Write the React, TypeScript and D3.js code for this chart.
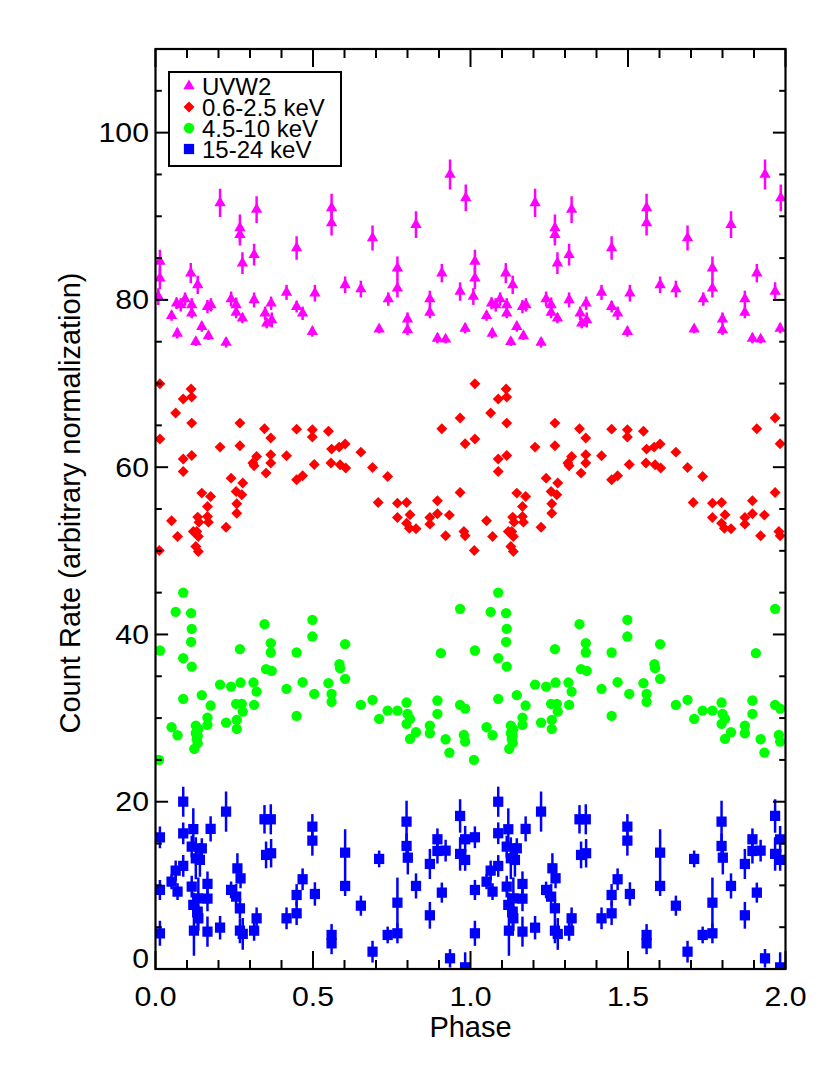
import React from 'react';
import * as d3 from 'd3';

// ---------- Data (folded phase 0-1, plotted twice) ----------
const uvPhase = [0.014,0.014,0.009,0.051,0.067,0.069,0.080,0.094,0.112,0.115,0.115,0.134,0.128,0.147,0.165,0.168,0.176,0.205,0.224,0.240,0.256,0.256,0.268,0.268,0.276,0.276,0.313,0.313,0.321,0.348,0.353,0.367,0.369,0.416,0.448,0.448,0.467,0.498,0.506,0.559,0.559,0.602,0.652,0.689,0.710,0.739,0.768,0.768,0.800,0.800,0.827,0.871,0.871,0.895,0.909,0.921,0.935,0.967,0.983,0.985];
const uvRate = [84.6,82.6,80.4,78.1,79.6,76.0,79.4,80.1,83.2,79.4,78.4,81.8,75.0,76.8,79.2,75.7,79.4,91.6,74.9,80.1,79.4,78.5,88.6,87.8,84.4,77.8,80.0,85.4,90.8,78.4,77.2,79.6,77.6,80.9,86.2,79.2,78.4,76.2,80.8,91.0,89.2,81.8,81.3,87.4,76.5,80.1,83.8,81.4,77.7,76.4,89.0,80.1,78.5,75.4,83.2,75.3,95.0,81.0,76.6,92.2];
const uvErr = [1.4,1.3,1.0,0.6,0.7,0.6,0.8,0.8,1.2,0.8,0.6,1.1,0.5,0.6,0.8,0.5,0.8,1.7,0.6,0.9,0.9,0.7,1.6,1.3,1.3,0.6,0.9,1.3,1.6,0.8,0.6,0.8,0.9,0.9,1.4,0.7,0.8,0.6,1.0,1.7,1.5,1.0,1.0,1.5,0.5,0.8,1.4,1.1,0.8,0.6,1.6,1.0,0.7,0.6,1.1,0.5,1.8,1.1,0.6,1.6];

const softPhase = [0.014,0.014,0.012,0.051,0.064,0.070,0.088,0.088,0.088,0.113,0.115,0.115,0.115,0.120,0.128,0.131,0.134,0.136,0.136,0.138,0.147,0.165,0.165,0.168,0.175,0.205,0.224,0.240,0.256,0.258,0.258,0.268,0.268,0.274,0.277,0.309,0.313,0.321,0.346,0.351,0.366,0.366,0.366,0.416,0.448,0.448,0.467,0.498,0.498,0.504,0.549,0.559,0.557,0.583,0.586,0.602,0.604,0.652,0.689,0.737,0.707,0.768,0.768,0.797,0.797,0.808,0.806,0.827,0.871,0.871,0.895,0.895,0.909,0.921,0.933,0.967,0.967,0.983,0.979,0.983];
const softRate = [69.98,63.36,50.04,53.59,66.47,51.71,68.14,60.97,59.49,69.34,68.38,65.27,61.4,52.31,50.52,52.31,54.03,51.71,49.92,53.43,56.9,55.3,54.1,53.43,56.5,62.4,52.83,58.69,57.1,55.62,54.5,65.27,62.56,56.7,58.1,60.49,60.17,61.28,64.59,59.29,63.48,61.48,60.49,61.36,64.55,58.49,58.97,64.47,63.6,60.33,64.3,62.16,60.49,62.4,60.29,62.76,59.89,61.8,59.97,58.89,55.78,55.7,53.99,55.78,53.31,54.31,52.71,52.63,53.99,53.19,55.98,54.43,64.59,51.79,54.27,65.87,56.97,62.8,52.31,51.79];

const hardPhase = [0.014,0.011,0.051,0.064,0.070,0.088,0.088,0.088,0.113,0.115,0.113,0.115,0.123,0.128,0.128,0.131,0.134,0.134,0.136,0.147,0.165,0.165,0.175,0.205,0.224,0.240,0.256,0.258,0.258,0.268,0.270,0.274,0.277,0.311,0.313,0.321,0.346,0.351,0.366,0.366,0.369,0.416,0.448,0.448,0.467,0.498,0.498,0.504,0.549,0.559,0.559,0.584,0.586,0.602,0.602,0.652,0.689,0.710,0.737,0.768,0.797,0.800,0.808,0.797,0.808,0.827,0.871,0.871,0.895,0.895,0.906,0.921,0.933,0.967,0.967,0.983,0.979,0.983];
const hardRate = [38.08,25.0,28.91,42.7,27.95,45.01,37.16,32.3,42.55,40.67,39.11,36.16,26.32,29.1,28.19,27.47,27.0,27.87,28.67,32.74,30.06,29.19,31.5,34.01,29.46,33.77,31.7,29.78,28.71,38.24,34.25,31.7,30.78,34.25,31.58,33.17,41.23,35.85,38.96,37.84,35.65,33.49,37.84,30.26,34.29,41.75,39.75,32.89,34.17,32.89,31.94,36.45,35.97,38.84,34.69,31.58,32.18,29.9,30.9,30.9,31.86,30.5,29.9,29.31,27.51,28.31,29.1,28.19,32.1,30.5,37.76,27.47,25.88,43.06,31.58,31.14,27.99,27.19];

const batPhase = [0.014,0.014,0.014,0.051,0.064,0.070,0.088,0.088,0.088,0.115,0.115,0.120,0.120,0.122,0.128,0.134,0.136,0.136,0.147,0.141,0.165,0.165,0.165,0.175,0.205,0.224,0.240,0.256,0.260,0.270,0.268,0.268,0.277,0.313,0.321,0.346,0.366,0.351,0.367,0.416,0.448,0.448,0.467,0.498,0.498,0.506,0.559,0.559,0.602,0.602,0.652,0.689,0.710,0.737,0.768,0.768,0.797,0.797,0.801,0.827,0.871,0.871,0.895,0.895,0.909,0.921,0.935,0.967,0.967,0.983,0.983,0.983,0.310,0.545,0.590,0.810];
const batRate = [15.75,9.45,4.27,10.44,11.76,9.25,20.0,16.23,12.32,14.63,9.85,16.71,7.66,4.58,13.24,6.86,6.06,8.45,14.43,13.04,10.17,8.41,4.47,16.75,4.94,18.82,9.45,8.65,12.04,10.85,7.26,4.58,4.19,4.58,6.06,17.9,17.9,13.64,13.84,6.06,6.66,8.85,10.73,17.02,15.35,8.97,4.07,3.07,13.91,9.93,7.57,2.07,13.16,4.07,4.27,7.93,17.62,14.71,13.31,9.93,12.56,6.42,15.51,14.11,9.13,14.15,1.28,18.3,13.76,15.51,13.04,0.2,-0.7,-0.7,-0.7,-0.7];
const batErr = [1.3,1.2,1.5,0.9,1.2,1.0,1.8,1.3,1.3,1.3,1.3,2.5,1.5,3.0,2.5,2.0,1.5,2.5,1.2,2.0,1.5,1.5,1.8,1.5,1.4,2.4,1.0,1.5,1.8,1.2,1.2,1.5,1.9,1.2,1.3,1.7,1.8,1.6,1.7,1.3,1.4,1.3,1.3,1.5,1.8,1.4,1.3,1.3,2.8,1.2,1.2,1.3,1.0,1.0,1.2,3.0,2.5,1.5,2.0,1.5,1.8,1.6,1.3,1.5,1.2,1.3,1.1,2.0,2.0,1.6,1.3,1.8,0.6,0.6,0.6,0.6];

const legendLabels = ['UVW2', '0.6-2.5 keV', '4.5-10 keV', '15-24 keV'];
const legendColors = ['#FF00FF', '#FF0000', '#00FF00', '#0000FF'];
const xTickValues = [0, 0.5, 1.0, 1.5, 2.0];
const xTickLabels = ['0.0', '0.5', '1.0', '1.5', '2.0'];
const yTickValues = [0, 20, 40, 60, 80, 100];
const yTickLabels = ['0', '20', '40', '60', '80', '100'];
const cycles = [0, 1];

const W = 830, H = 1068;
const M = { left: 155.5, right: 785.5, top: 49, bottom: 969 };
const FONT = 'Liberation Sans, Arial, Helvetica, sans-serif';

export default function App() {
  const x = d3.scaleLinear().domain([0, 2]).range([M.left, M.right]);
  const y = d3.scaleLinear().domain([0, 110]).range([M.bottom, M.top]);

  const triPath = d3.symbol(d3.symbolTriangle, 56)() as string;
  const diaPath = d3.symbol(d3.symbolSquare, 60)() as string;
  const circPath = d3.symbol(d3.symbolCircle, 84)() as string;
  const sqPath = d3.symbol(d3.symbolSquare, 105)() as string;

  const xMinor = d3.range(0, 2.0001, 0.1);
  const yMinor = d3.range(0, 110.001, 5);

  const pts = (ph: number[], v: number[]) =>
    cycles.flatMap((c) => ph.map((p, i) => ({ px: x(p + c), py: y(v[i]), i, c })));

  const uvPts = pts(uvPhase, uvRate);
  const softPts = pts(softPhase, softRate);
  const hardPts = pts(hardPhase, hardRate);
  const batPts = pts(batPhase, batRate);

  const legendSyms = [
    { d: triPath, rot: 0 },
    { d: diaPath, rot: 45 },
    { d: circPath, rot: 0 },
    { d: sqPath, rot: 0 },
  ];

  return (
    <svg width={W} height={H} style={{ position: 'absolute', left: 0, top: 0, background: '#fff' }} fontFamily={FONT}>
      <defs>
        <clipPath id="plotclip">
          <rect x={M.left} y={M.top} width={M.right - M.left} height={M.bottom - M.top} />
        </clipPath>
      </defs>
      <rect x={0} y={0} width={W} height={H} fill="#fff" />
      <g clipPath="url(#plotclip)">
        {uvPts.map((d, k) => (
          <line key={'ue' + k} x1={d.px} x2={d.px} y1={y(uvRate[d.i] - uvErr[d.i])} y2={y(uvRate[d.i] + uvErr[d.i])} stroke="#FF00FF" strokeWidth={2.5} />
        ))}
        {uvPts.map((d, k) => (
          <path key={'u' + k} d={triPath} transform={`translate(${d.px},${d.py})`} fill="#FF00FF" />
        ))}
        {softPts.map((d, k) => (
          <path key={'s' + k} d={diaPath} transform={`translate(${d.px},${d.py}) rotate(45)`} fill="#FF0000" />
        ))}
        {hardPts.map((d, k) => (
          <path key={'h' + k} d={circPath} transform={`translate(${d.px},${d.py})`} fill="#00FF00" />
        ))}
        {batPts.map((d, k) => (
          <line key={'be' + k} x1={d.px} x2={d.px} y1={y(batRate[d.i] - batErr[d.i])} y2={y(batRate[d.i] + batErr[d.i])} stroke="#0000FF" strokeWidth={2.5} />
        ))}
        {batPts.map((d, k) => (
          <path key={'b' + k} d={sqPath} transform={`translate(${d.px},${d.py})`} fill="#0000FF" />
        ))}
      </g>

      <rect x={M.left} y={M.top} width={M.right - M.left} height={M.bottom - M.top} fill="none" stroke="#000" strokeWidth={2.2} />

      {xMinor.map((t, k) => {
        const major = xTickValues.some((v) => Math.abs(v - t) < 1e-6);
        const len = major ? 18 : 9;
        return (
          <g key={'xt' + k} stroke="#000" strokeWidth={2}>
            <line x1={x(t)} x2={x(t)} y1={M.bottom} y2={M.bottom - len} />
            <line x1={x(t)} x2={x(t)} y1={M.top} y2={M.top + len} />
          </g>
        );
      })}
      {yMinor.map((t, k) => {
        const major = yTickValues.some((v) => Math.abs(v - t) < 1e-6);
        const len = major ? 12.6 : 6.3;
        return (
          <g key={'yt' + k} stroke="#000" strokeWidth={2}>
            <line x1={M.left} x2={M.left + len} y1={y(t)} y2={y(t)} />
            <line x1={M.right} x2={M.right - len} y1={y(t)} y2={y(t)} />
          </g>
        );
      })}

      {xTickValues.map((t, k) => (
        <text key={'xl' + k} x={x(t)} y={1006} textAnchor="middle" fontSize={28} fill="#000" transform={`translate(${x(t)},0) scale(1.08,1) translate(${-x(t)},0)`}>{xTickLabels[k]}</text>
      ))}
      {yTickValues.map((t, k) => (
        <text key={'yl' + k} x={149} y={y(t) + 9.5 - (t === 0 ? 10 : 0)} textAnchor="end" fontSize={27} fill="#000" transform={`translate(149,0) scale(1.12,1) translate(-149,0)`}>{yTickLabels[k]}</text>
      ))}

      <text x={(M.left + M.right) / 2} y={1037} textAnchor="middle" fontSize={29} fill="#000">Phase</text>
      <text transform={`translate(80,503) rotate(-90)`} textAnchor="middle" fontSize={29} fill="#000">Count Rate (arbitrary normalization)</text>

      <rect x={169} y={72} width={172} height={94} fill="#fff" stroke="#000" strokeWidth={2} />
      {legendLabels.map((lab, k) => {
        const cy = 86 + k * 21;
        const s = legendSyms[k];
        return (
          <g key={'lg' + k}>
            <path d={s.d} transform={`translate(189,${cy}) rotate(${s.rot})`} fill={legendColors[k]} />
            <text x={202} y={cy + 8.5} fontSize={24} fill="#000">{lab}</text>
          </g>
        );
      })}
    </svg>
  );
}
